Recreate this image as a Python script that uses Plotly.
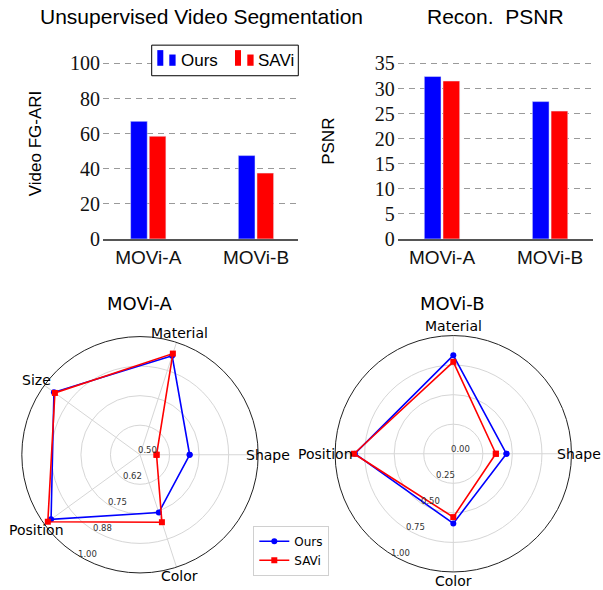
import math
import plotly.graph_objects as go

# The photographed viewport is ~603x601 and gets resized to 603x590, so the
# page is laid out 601 px tall and every vertical position is given in
# target-picture pixels and converted with the factor S.
W = 603
IMG_H = 590
S = 0.9817
H = round(IMG_H / S)  # 601

# ---------------- data ----------------
datasets = ["MOVi-A", "MOVi-B"]
fgari_ours = [67.0, 47.5]
fgari_savi = [58.5, 37.5]
psnr_ours = [32.4, 27.4]
psnr_savi = [31.5, 25.5]

fgari_ticks = [0, 20, 40, 60, 80, 100]
psnr_ticks = [0, 5, 10, 15, 20, 25, 30, 35]

attrs_a = ["Shape", "Material", "Size", "Position", "Color"]
movia_ours = [0.71, 0.94, 0.95, 0.965, 0.757]
movia_savi = [0.57, 0.95, 0.945, 0.982, 0.80]
movia_rticks = [0.5, 0.625, 0.75, 0.875, 1.0]
movia_rlabels = ["0.50", "0.62", "0.75", "0.88", "1.00"]

attrs_b = ["Shape", "Material", "Position", "Color"]
movib_ours = [0.45, 0.833, 0.833, 0.59]
movib_savi = [0.36, 0.778, 0.84, 0.536]
movib_rticks = [0.0, 0.25, 0.5, 0.75, 1.0]
movib_rlabels = ["0.00", "0.25", "0.50", "0.75", "1.00"]

BLUE = "#0000ff"
RED = "#ff0000"
SANS = "Liberation Sans"
SERIF = "Liberation Serif"
MPL = "DejaVu Sans"


def px(x):
    return x / W


def py(y):  # picture y -> paper
    return 1 - (y / S) / H


fig = go.Figure()

# ---------------- bar charts ----------------
fig.add_trace(go.Bar(x=datasets, y=fgari_ours, marker_color=BLUE, showlegend=False,
                     xaxis="x", yaxis="y"))
fig.add_trace(go.Bar(x=datasets, y=fgari_savi, marker_color=RED, showlegend=False,
                     xaxis="x", yaxis="y"))
fig.add_trace(go.Bar(x=datasets, y=psnr_ours, marker_color=BLUE, showlegend=False,
                     xaxis="x2", yaxis="y2"))
fig.add_trace(go.Bar(x=datasets, y=psnr_savi, marker_color=RED, showlegend=False,
                     xaxis="x2", yaxis="y2"))

ydom = [py(237.7), py(52.9)]
common_x = dict(showline=True, linecolor="#555555", linewidth=1.6, showgrid=False,
                zeroline=False, ticks="", tickfont=dict(family=SANS, size=19, color="#111"),
                ticklabelstandoff=1, fixedrange=True)
common_y = dict(showline=False, zeroline=False, showgrid=True, gridcolor="#9a9a9a",
                griddash="6px,5px", gridwidth=1, ticks="",
                tickfont=dict(family=SERIF, size=20, color="#111"),
                ticklabelstandoff=2, fixedrange=True)

fig.update_layout(
    xaxis=dict(domain=[px(103), px(298)], range=[-0.42, 1.39], anchor="y", **common_x),
    yaxis=dict(domain=ydom, range=[0, 105], tickvals=fgari_ticks, anchor="x", **common_y),
    xaxis2=dict(domain=[px(397.7), px(593.3)], range=[-0.41, 1.40], anchor="y2", **common_x),
    yaxis2=dict(domain=ydom, range=[0, 36.75], tickvals=psnr_ticks, anchor="x2", **common_y),
    barmode="group", bargap=0.654, bargroupgap=0.107,
)

# ---------------- radar charts ----------------
def closed(v):
    return list(v) + [v[0]]


fig.add_trace(go.Scatterpolar(theta=closed(attrs_a), r=closed(movia_ours), name="Ours",
                              mode="lines+markers", line=dict(color=BLUE, width=1.6),
                              marker=dict(symbol="circle", size=6, color=BLUE),
                              subplot="polar", showlegend=True, legendgroup="o"))
fig.add_trace(go.Scatterpolar(theta=closed(attrs_a), r=closed(movia_savi), name="SAVi",
                              mode="lines+markers", line=dict(color=RED, width=1.6),
                              marker=dict(symbol="square", size=6, color=RED),
                              subplot="polar", showlegend=True, legendgroup="s"))
fig.add_trace(go.Scatterpolar(theta=closed(attrs_b), r=closed(movib_ours), name="Ours",
                              mode="lines+markers", line=dict(color=BLUE, width=1.6),
                              marker=dict(symbol="circle", size=6, color=BLUE),
                              subplot="polar2", showlegend=False, legendgroup="o"))
fig.add_trace(go.Scatterpolar(theta=closed(attrs_b), r=closed(movib_savi), name="SAVi",
                              mode="lines+markers", line=dict(color=RED, width=1.6),
                              marker=dict(symbol="square", size=6, color=RED),
                              subplot="polar2", showlegend=False, legendgroup="s"))

R = 120          # radius in picture pixels
RP = 120.8       # radius in page pixels (between horizontal and vertical need)
CA = (140, 454.3)
CB = (453.3, 453.3)


def polar_layout(center, rrange, rticks):
    cx, cy = center
    cyp = cy / S  # page y of the centre
    return dict(
        domain=dict(x=[px(cx - RP), px(cx + RP)],
                    y=[1 - (cyp + RP) / H, 1 - (cyp - RP) / H]),
        bgcolor="white",
        radialaxis=dict(range=rrange, tickvals=rticks, showticklabels=False, ticks="",
                        showline=False, gridcolor="#d6d6d6", gridwidth=1, angle=240),
        angularaxis=dict(direction="counterclockwise", rotation=0, showticklabels=False,
                         ticks="", showline=True, linecolor="#222222", linewidth=1,
                         gridcolor="#d6d6d6", gridwidth=1),
    )


fig.update_layout(polar=polar_layout(CA, [0.5, 1.0], movia_rticks),
                  polar2=polar_layout(CB, [0.0, 1.0], movib_rticks))

annotations = []


def ann(x, y, text, size, family, color="#000", **kw):
    annotations.append(dict(x=px(x), y=py(y), xref="paper", yref="paper", text=text,
                            showarrow=False, font=dict(family=family, size=size, color=color),
                            xanchor=kw.pop("xanchor", "center"), yanchor=kw.pop("yanchor", "middle"),
                            **kw))


def radar_labels(center, attrs, rticks, rlabels, rrange):
    cx, cy = center
    n = len(attrs)
    for i, a in enumerate(attrs):
        ang = math.radians(360 * i / n)
        x = cx + 128 * math.cos(ang)
        y = cy - 128 * math.sin(ang)
        if x + 22 > W:
            ann(W - 0.5, y, a, 14, MPL, xanchor="right")
        else:
            ann(x, y, a, 14, MPL)
    lo, hi = rrange
    ang = math.radians(240)
    for v, t in zip(rticks, rlabels):
        d = (v - lo) / (hi - lo) * R
        ann(cx + d * math.cos(ang) + 7.5, cy - d * math.sin(ang) - 4.3, t, 8.5, MPL, "#333")


radar_labels(CA, attrs_a, movia_rticks, movia_rlabels, [0.5, 1.0])
radar_labels(CB, attrs_b, movib_rticks, movib_rlabels, [0.0, 1.0])

# titles
ann(201, 15, "Unsupervised Video Segmentation", 21, SANS)
ann(495.8, 15, "Recon.  PSNR", 21, SANS)
ann(139, 302.7, "MOVi-A", 18, MPL)
ann(452.5, 302.7, "MOVi-B", 18, MPL)
ann(35, 141.7, "Video FG-ARI", 17, SANS, textangle=-90)
ann(328.3, 140, "PSNR", 17, SANS, textangle=-90)

# bar-chart legend (drawn box with bar pictograms)
shapes = [dict(type="rect", xref="paper", yref="paper", x0=px(151.7), x1=px(298.3),
               y0=py(74), y1=py(43.3), line=dict(color="#000", width=1), fillcolor="white",
               layer="above")]
for (xa, xb, col) in [(157.3, 169.3, BLUE), (235, 247.3, RED)]:
    shapes.append(dict(type="rect", xref="paper", yref="paper", x0=px(xa), x1=px(xa + 6),
                       y0=py(64), y1=py(48.3), line=dict(width=0), fillcolor=col, layer="above"))
    shapes.append(dict(type="rect", xref="paper", yref="paper", x0=px(xb), x1=px(xb + 6.3),
                       y0=py(64), y1=py(52.7), line=dict(width=0), fillcolor=col, layer="above"))
ann(179, 59, "Ours", 17, SANS, xanchor="left")
ann(255.5, 59, "SAVi", 17, SANS, xanchor="left")

fig.update_layout(
    width=W, height=H, margin=dict(l=0, r=0, t=0, b=0),
    paper_bgcolor="white", plot_bgcolor="white",
    annotations=annotations, shapes=shapes,
    legend=dict(x=px(253.3), y=py(525.5), xanchor="left", yanchor="top",
                bgcolor="white", bordercolor="#d0d0d0", borderwidth=1,
                font=dict(family=MPL, size=12, color="#000"), tracegroupgap=0,
                itemwidth=30),
    showlegend=True,
)

fig.write_html(
    "out.html",
    config={"displayModeBar": False},
    post_script=("document.documentElement.style.margin='0';"
                 "document.documentElement.style.overflow='hidden';"
                 "document.body.style.margin='0';"
                 "document.body.style.overflow='hidden';"),
)
